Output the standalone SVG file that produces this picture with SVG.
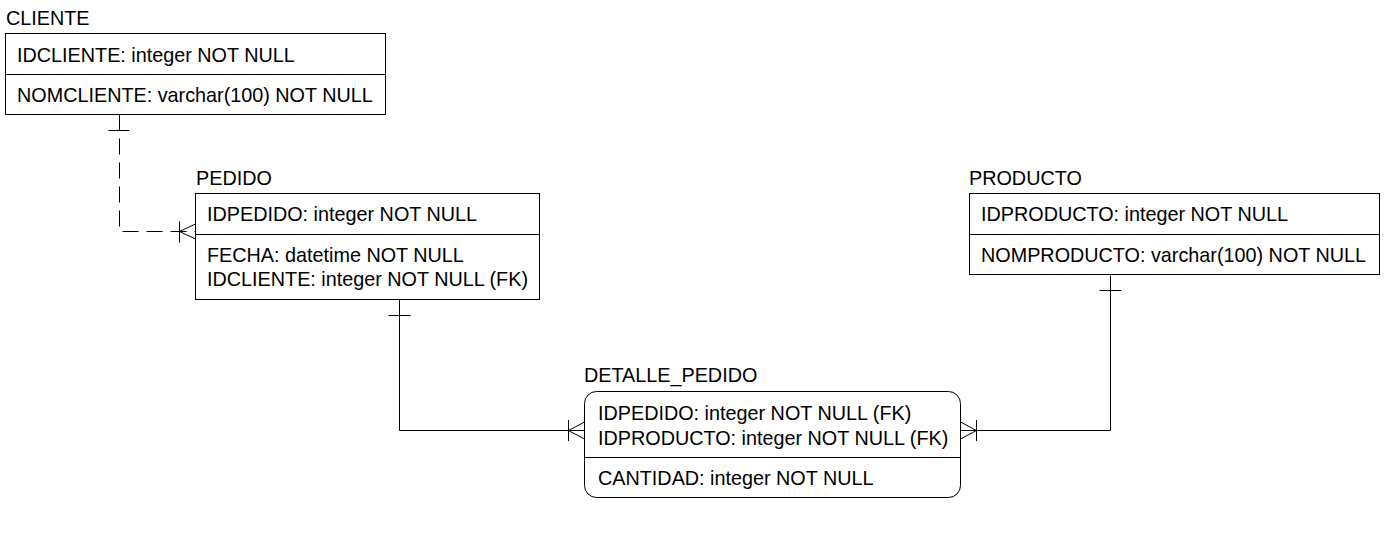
<svg xmlns="http://www.w3.org/2000/svg" width="1388" height="549" viewBox="0 0 1388 549">
<style>
text{font-family:"Liberation Sans",Arial,sans-serif;font-size:19.8px;fill:#000}
.box{fill:#fff;stroke:#000;stroke-width:1}
.ln{fill:none;stroke:#000;stroke-width:1}
.dash{stroke-dasharray:16 8}
</style>
<rect width="1388" height="549" fill="#fff"/>
<g id="connectors">
  <path class="ln dash" d="M119.5,114.5 V231.5 H195.5"/>
  <path class="ln" d="M108.5,130.5 H129.5"/>
  <path class="ln" d="M179.5,221.5 V242.5 M179.5,231.5 L195.5,224 M179.5,231.5 L195.5,239"/>
  <path class="ln" d="M399.5,299.5 V430.5 H584.5"/>
  <path class="ln" d="M388.5,315.5 H410.5"/>
  <path class="ln" d="M568.5,420 V441 M568.5,430.5 L584.5,422 M568.5,430.5 L584.5,439"/>
  <path class="ln" d="M1110.5,275.5 V430.5 H960.5"/>
  <path class="ln" d="M1099.5,290.5 H1121.5"/>
  <path class="ln" d="M976.5,420 V441 M976.5,430.5 L960.5,422 M976.5,430.5 L960.5,439"/>
</g>
<g id="cliente">
  <text x="6" y="25">CLIENTE</text>
  <rect class="box" x="5.5" y="33.5" width="380" height="81"/>
  <path class="ln" d="M5.5,74.5 H385.5"/>
  <text x="17" y="61.5">IDCLIENTE: integer NOT NULL</text>
  <text x="17" y="101.5">NOMCLIENTE: varchar(100) NOT NULL</text>
</g>
<g id="pedido">
  <text x="196" y="184.5">PEDIDO</text>
  <rect class="box" x="195.5" y="193.5" width="344" height="106"/>
  <path class="ln" d="M195.5,234.5 H539.5"/>
  <text x="207" y="220.5">IDPEDIDO: integer NOT NULL</text>
  <text x="207" y="261.5">FECHA: datetime NOT NULL</text>
  <text x="207" y="286">IDCLIENTE: integer NOT NULL (FK)</text>
</g>
<g id="producto">
  <text x="969" y="184.5">PRODUCTO</text>
  <rect class="box" x="969.5" y="193.5" width="410" height="81"/>
  <path class="ln" d="M969.5,234.5 H1379.5"/>
  <text x="981" y="220.5">IDPRODUCTO: integer NOT NULL</text>
  <text x="981" y="261.5">NOMPRODUCTO: varchar(100) NOT NULL</text>
</g>
<g id="detalle_pedido">
  <text x="584" y="382">DETALLE_PEDIDO</text>
  <rect class="box" x="584.5" y="391.5" width="376" height="106" rx="12" ry="12"/>
  <path class="ln" d="M584.5,457.5 H960.5"/>
  <text x="598" y="420">IDPEDIDO: integer NOT NULL (FK)</text>
  <text x="598" y="444.5">IDPRODUCTO: integer NOT NULL (FK)</text>
  <text x="598" y="485">CANTIDAD: integer NOT NULL</text>
</g>
</svg>
